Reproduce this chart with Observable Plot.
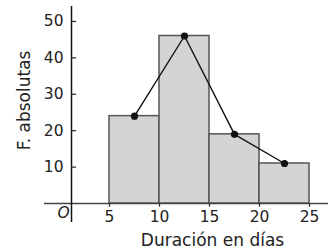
<!DOCTYPE html>
<html>
<head>
<meta charset="utf-8">
<script src="https://cdn.jsdelivr.net/npm/d3@7"></script>
<script src="https://cdn.jsdelivr.net/npm/@observablehq/plot@0.6"></script>
<style>
  html, body { margin: 0; padding: 0; background: #fff; }
  #chart svg { display: block; }
</style>
</head>
<body>
<div id="chart"></div>
<script>
const binStart = [5, 10, 15, 20];
const binEnd = [10, 15, 20, 25];
const freq = [24, 46, 19, 11];
const midpoints = [7.5, 12.5, 17.5, 22.5];
const xTicks = [5, 10, 15, 20, 25];
const yTicks = [10, 20, 30, 40, 50];
const xLabel = "Duración en días";
const yLabel = "F. absolutas";
const originLabel = "O";

const bins = binStart.map((s, i) => ({x1: s, x2: binEnd[i], f: freq[i], m: midpoints[i]}));
const yAxisAt = 1.2;
const font = "DejaVu Sans, sans-serif";
const ink = "#222";

const chart = Plot.plot({
  width: 328,
  height: 251,
  marginLeft: 44,
  marginRight: 0,
  marginTop: 6,
  marginBottom: 29,
  style: {fontFamily: font, background: "#fff"},
  x: {domain: [-1.5, 26.9], axis: null},
  y: {domain: [-5.2, 54.1], axis: null},
  marks: [
    Plot.rectY(bins, {x1: "x1", x2: "x2", y1: 0, y2: "f", fill: "#d4d4d6", stroke: "#555", strokeWidth: 1.5}),
    Plot.ruleY([0], {stroke: "#444", strokeWidth: 1.6}),
    Plot.ruleX([yAxisAt], {stroke: "#111", strokeWidth: 1.5}),
    Plot.ruleX(xTicks, {y1: 0, y2: -1, stroke: "#333", strokeWidth: 1.3}),
    Plot.ruleY(yTicks, {x1: yAxisAt, x2: yAxisAt + 0.5, stroke: "#333", strokeWidth: 1.3}),
    Plot.line(bins, {x: "m", y: "f", stroke: "#111", strokeWidth: 1.4}),
    Plot.dot(bins, {x: "m", y: "f", r: 3.6, fill: "#111", stroke: "none"}),
    Plot.text(xTicks, {x: d => d, y: 0, text: d => String(d), dy: 13, lineAnchor: "middle", fontSize: 15.5, fill: ink}),
    Plot.text(yTicks, {x: yAxisAt, y: d => d, text: d => String(d), dx: -8, textAnchor: "end", lineAnchor: "middle", fontSize: 15.5, fill: ink}),
    Plot.text([originLabel], {x: 0, y: 0, text: d => d, dx: 4, dy: 9, lineAnchor: "middle", fontStyle: "italic", fontSize: 15.5, fill: ink}),
    Plot.text([xLabel], {frameAnchor: "bottom", text: d => d, dx: 26, dy: 18, lineAnchor: "middle", fontSize: 17, fill: ink}),
    Plot.text([yLabel], {x: -3.45, y: 28.3, text: d => d, rotate: -90, lineAnchor: "middle", fontSize: 17, fill: ink})
  ]
});
document.getElementById("chart").appendChild(chart);
</script>
</body>
</html>
